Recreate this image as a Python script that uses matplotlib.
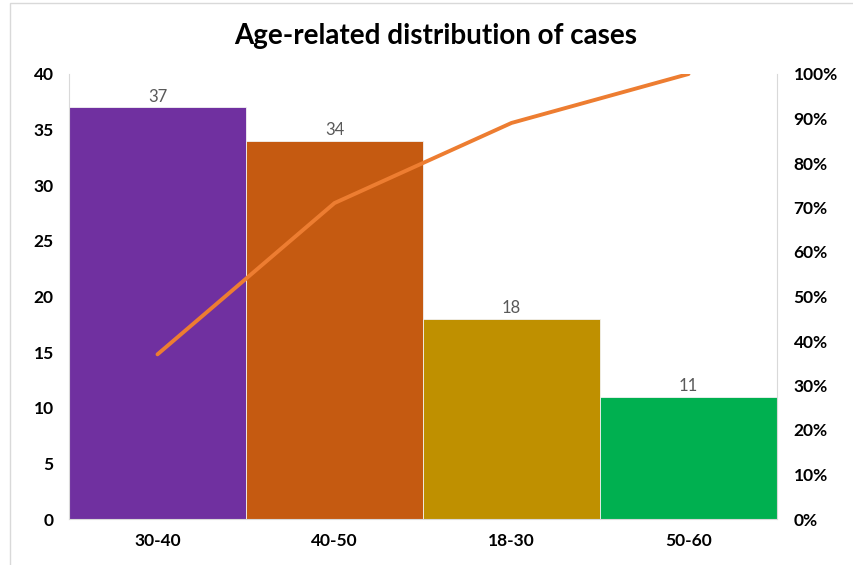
import matplotlib
matplotlib.use("Agg")
import matplotlib.pyplot as plt
from matplotlib.patches import Rectangle
from matplotlib.ticker import PercentFormatter, MultipleLocator

plt.rcParams['font.family'] = ['Lato', 'DejaVu Sans']

# Case counts by age group, sorted for a Pareto view
age_groups = ["30-40", "40-50", "18-30", "50-60"]
cases = [37, 34, 18, 11]
cumulative_pct = [37, 71, 89, 100]
bar_colors = ["#7030A0", "#C55A11", "#BF9000", "#00B050"]

W, H = 854, 565
fig = plt.figure(figsize=(W / 100, H / 100), dpi=100)

# Outer chart frame
fig.add_artist(Rectangle((10 / W, -0.01), 1.2, (H - 3) / H + 0.01,
                         transform=fig.transFigure, fill=False,
                         edgecolor="#D9D9D9", linewidth=1.0))

ax = fig.add_axes([69 / W, 46 / H, (777 - 69) / W, (519 - 74) / H])
x = range(len(age_groups))
bars = ax.bar(x, cases, width=1.0, color=bar_colors,
              edgecolor="#F2F2F2", linewidth=0.6, zorder=2)
for xi, v in zip(x, cases):
    ax.text(xi, v + 0.25, str(v), ha="center", va="bottom",
            fontsize=12, color="#595959")

ax.set_xlim(-0.5, len(age_groups) - 0.5)
ax.set_ylim(0, 40)
ax.yaxis.set_major_locator(MultipleLocator(5))
ax.set_xticks(list(x))
ax.set_xticklabels(age_groups)
for s in ["top", "right"]:
    ax.spines[s].set_visible(False)
for s in ["left", "bottom"]:
    ax.spines[s].set_color("#D9D9D9")
ax.tick_params(axis="both", length=0, labelsize=12.5)
ax.tick_params(axis="x", pad=10)
ax.tick_params(axis="y", pad=11)
for lab in ax.get_xticklabels() + ax.get_yticklabels():
    lab.set_fontweight("bold")

ax2 = ax.twinx()
ax2.plot(list(x), cumulative_pct, color="#ED7D31", linewidth=2.8,
         solid_capstyle="round", solid_joinstyle="round", zorder=3)
ax2.set_ylim(0, 100)
ax2.yaxis.set_major_locator(MultipleLocator(10))
ax2.yaxis.set_major_formatter(PercentFormatter(decimals=0))
for s in ["top", "left", "bottom"]:
    ax2.spines[s].set_visible(False)
ax2.spines["right"].set_color("#D9D9D9")
ax2.tick_params(axis="y", length=0, labelsize=12.5, pad=12)
for lab in ax2.get_yticklabels():
    lab.set_fontweight("bold")

fig.text(436 / W, 1 - 36 / H, "Age-related distribution of cases",
         ha="center", va="center", fontsize=20, fontweight="bold")

fig.savefig("out.png", dpi=100)
